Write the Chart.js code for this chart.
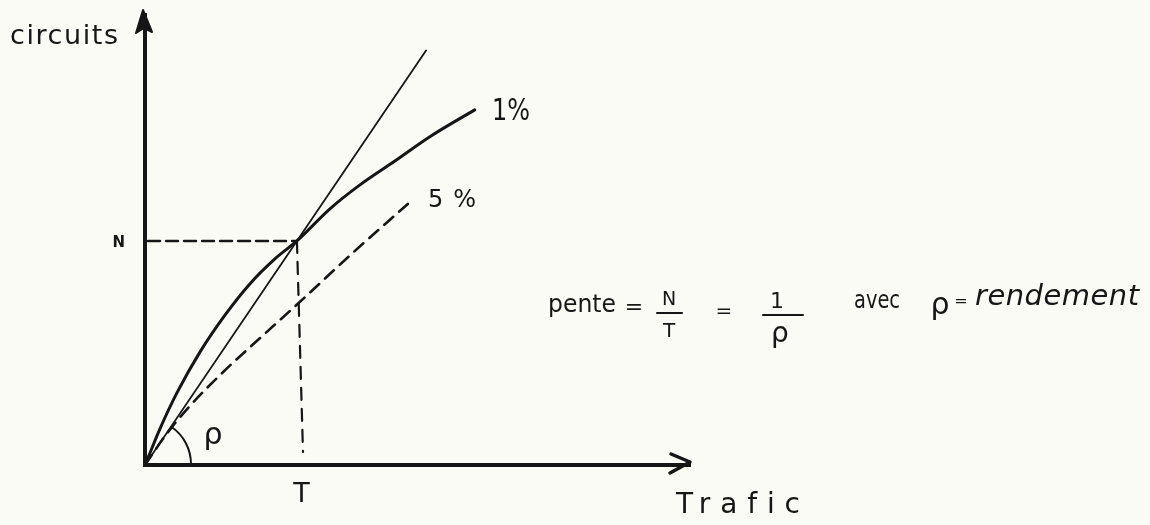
<!DOCTYPE html>
<html>
<head>
<meta charset="utf-8">
<script src="https://cdn.jsdelivr.net/npm/chart.js@4.4.0/dist/chart.umd.min.js"></script>
<style>
  html, body { margin: 0; padding: 0; background: #fbfbf5; }
  #wrap { width: 1150px; height: 525px; }
</style>
</head>
<body>
<div id="wrap"><canvas id="sketch" width="1150" height="525"></canvas></div>
<script>
// ===== Data =====
const traficMax = 14.35;
const circuitsMax = 12.05;

const valueT = 4;   // trafic T
const valueN = 6;   // circuits N

// 1% loss curve
const trafic1   = [0, 0.13, 0.39, 0.84, 1.45, 2.11, 2.76, 3.42, 4, 4.87, 5.66, 6.58, 7.5, 8.68];
const circuits1 = [0, 0.32, 0.96, 1.93, 3.03, 4.02, 4.85, 5.52, 6, 6.86, 7.5, 8.14, 8.79, 9.51];

// 5% loss curve
const trafic5   = [0, 0.53, 1.18, 2.11, 3.03, 4.08, 5.47, 6.92];
const circuits5 = [0, 0.78, 1.58, 2.54, 3.40, 4.37, 5.68, 6.99];

// slope N/T through the origin
const traficPente   = [0, 4, 7.4];
const circuitsPente = [0, 6, 11.1];

// guide lines to N and T
const guideH = [{x: 0.08, y: valueN}, {x: valueT, y: valueN}];
const guideV = [{x: valueT, y: valueN}, {x: 4.16, y: 0.35}];

const ink = '#161616';

const toPoints = (xs, ys) => xs.map((x, i) => ({x: x, y: ys[i]}));

// ===== Helpers =====
// spreads the letters out, or squeezes the word, so it spans `width`
function fitText(ctx, text, x, y, width, font) {
    ctx.font = font;
    ctx.letterSpacing = '0px';
    const w = ctx.measureText(text).width;
    const n = [...text].length;
    if (w > width || n < 2) {
        ctx.save();
        ctx.translate(x, y);
        ctx.scale(width / w, 1);
        ctx.fillText(text, 0, 0);
        ctx.restore();
        return;
    }
    ctx.letterSpacing = ((width - w) / (n - 1)).toFixed(2) + 'px';
    ctx.fillText(text, x, y);
    ctx.letterSpacing = '0px';
}

function centerText(ctx, text, x, y, font) {
    ctx.font = font;
    ctx.textAlign = 'center';
    ctx.fillText(text, x, y);
    ctx.textAlign = 'left';
}

function hLine(ctx, x1, x2, y, w) {
    ctx.beginPath();
    ctx.lineWidth = w;
    ctx.moveTo(x1, y);
    ctx.lineTo(x2, y);
    ctx.stroke();
}

// ===== Sketch decorations =====
const sketchDeco = {
    id: 'sketchDeco',
    afterDraw(chart) {
        const ctx = chart.ctx;
        const xs = chart.scales.x, ys = chart.scales.y;
        const x0 = xs.getPixelForValue(0), y0 = ys.getPixelForValue(0);
        const yTop = ys.getPixelForValue(circuitsMax);
        const xEnd = xs.getPixelForValue(traficMax);

        ctx.save();
        ctx.fillStyle = ink;
        ctx.strokeStyle = ink;
        ctx.lineCap = 'round';
        ctx.lineJoin = 'round';
        ctx.textBaseline = 'alphabetic';

        // arrow head on circuits axis
        ctx.beginPath();
        ctx.moveTo(x0 - 2, yTop - 5);
        ctx.lineTo(x0 + 7, yTop + 17);
        ctx.lineTo(x0 - 1, yTop + 13);
        ctx.lineTo(x0 - 9, yTop + 18);
        ctx.closePath();
        ctx.fill();
        ctx.lineWidth = 2;
        ctx.stroke();

        // open arrow head on trafic axis
        ctx.beginPath();
        ctx.lineWidth = 3.5;
        ctx.moveTo(xEnd - 19, y0 - 11);
        ctx.lineTo(xEnd, y0 - 3);
        ctx.lineTo(xEnd - 20, y0 + 8);
        ctx.stroke();

        // angle rho between slope line and trafic axis
        const ang = Math.atan2(y0 - ys.getPixelForValue(circuitsPente[1]),
                               xs.getPixelForValue(traficPente[1]) - x0);
        ctx.beginPath();
        ctx.lineWidth = 2;
        ctx.arc(x0 + 1, y0 - 1, 45, -ang, 0);
        ctx.stroke();
        centerText(ctx, 'ρ', 213, 444, '30px "DejaVu Sans"');

        // axis names
        fitText(ctx, 'circuits', 10, 44, 108, '27px "DejaVu Sans"');
        fitText(ctx, 'Trafic', 676, 513, 124, '28px "DejaVu Sans"');

        // N and T marks
        ctx.font = 'bold 15px "DejaVu Sans"';
        ctx.textAlign = 'right';
        ctx.fillText('N', x0 - 20, ys.getPixelForValue(valueN) + 6);
        ctx.textAlign = 'left';
        centerText(ctx, 'T', xs.getPixelForValue(4.12), 502, '27px "DejaVu Sans"');

        // curve names
        fitText(ctx, '1%', 492, 120, 38, '30px "DejaVu Sans"');
        fitText(ctx, '5%', 428, 207, 48, '24px "DejaVu Sans"');

        // pente = N/T = 1/rho  avec rho = rendement
        fitText(ctx, 'pente', 548, 312, 68, '25px "DejaVu Sans"');
        centerText(ctx, '=', 634, 314, '22px "DejaVu Sans"');
        centerText(ctx, 'N', 669, 305, '19px "DejaVu Sans"');
        hLine(ctx, 657, 682, 313, 2);
        centerText(ctx, 'T', 669, 337, '20px "DejaVu Sans"');
        centerText(ctx, '=', 724, 317, '20px "DejaVu Sans"');
        centerText(ctx, '1', 777, 308, '22px "DejaVu Sans"');
        hLine(ctx, 763, 803, 315, 2);
        centerText(ctx, 'ρ', 780, 342, '28px "DejaVu Sans"');
        fitText(ctx, 'avec', 854, 308, 46, '25px "DejaVu Sans"');
        centerText(ctx, 'ρ', 940, 314, '30px "DejaVu Sans"');
        centerText(ctx, '=', 961, 306, '16px "DejaVu Sans"');
        fitText(ctx, 'rendement', 975, 305, 164, 'italic 29px "DejaVu Sans"');

        ctx.restore();
    }
};

// ===== Chart =====
const ctx = document.getElementById('sketch').getContext('2d');
const sketch = new Chart(ctx, {
    type: 'line',
    data: {
        datasets: [
            { label: 'pente', data: toPoints(traficPente, circuitsPente), borderColor: ink, borderWidth: 1.8, tension: 0 },
            { label: '1%', data: toPoints(trafic1, circuits1), borderColor: ink, borderWidth: 3, cubicInterpolationMode: 'monotone' },
            { label: '5%', data: toPoints(trafic5, circuits5), borderColor: ink, borderWidth: 2.6, borderDash: [12, 8], cubicInterpolationMode: 'monotone' },
            { label: 'N', data: guideH, borderColor: ink, borderWidth: 2.4, borderDash: [12, 6], tension: 0 },
            { label: 'T', data: guideV, borderColor: ink, borderWidth: 2.2, borderDash: [12, 9], tension: 0 }
        ]
    },
    options: {
        responsive: false,
        animation: false,
        elements: { point: { radius: 0, hoverRadius: 0 }, line: { borderCapStyle: 'round' } },
        layout: { padding: { left: 145, top: 15, right: 460, bottom: 60 } },
        plugins: { legend: { display: false }, tooltip: { enabled: false } },
        events: [],
        scales: {
            x: {
                type: 'linear', min: 0, max: traficMax,
                grid: { display: false, drawTicks: false },
                ticks: { display: false },
                border: { display: true, color: ink, width: 4 }
            },
            y: {
                type: 'linear', min: 0, max: circuitsMax,
                grid: { display: false, drawTicks: false },
                ticks: { display: false },
                border: { display: true, color: ink, width: 4 }
            }
        }
    },
    plugins: [sketchDeco]
});
</script>
</body>
</html>
